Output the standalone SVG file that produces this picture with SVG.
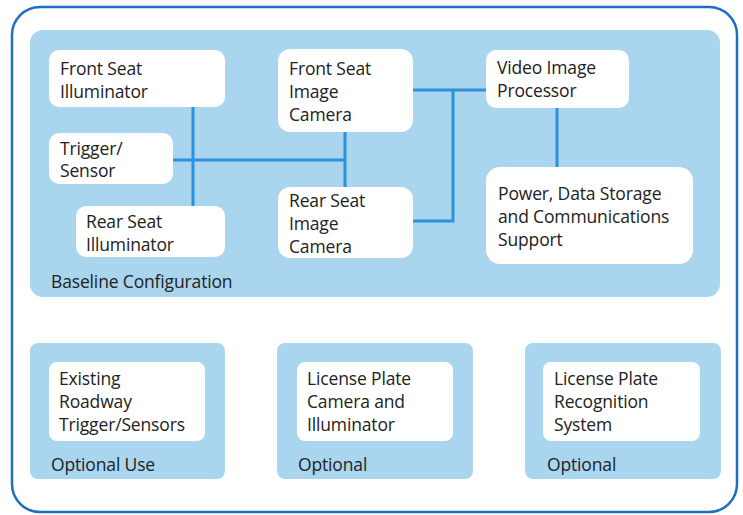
<svg xmlns="http://www.w3.org/2000/svg" width="743" height="515" viewBox="0 0 743 515">
<style>
.frame{fill:#fff;stroke:#1d6fc2;stroke-width:2.5}
.panel{fill:#a9d5ee}
.box{fill:#fff}
.t{font-family:"Open Sans","Noto Sans",sans-serif;font-size:17.5px;fill:#222;letter-spacing:-0.15px}
.conn{fill:none;stroke:#2a93db;stroke-width:3}
</style>
<rect class="frame" x="12" y="7" width="725" height="505" rx="28"/>
<g id="baseline">
<rect class="panel" x="30" y="30" width="690" height="267" rx="13"/>
<text class="t" x="51" y="288">Baseline Configuration</text>
</g>
<g id="connectors">
<path class="conn" d="M193 107V206M173 160H345M345 132V187M413 90H486M453 90V221H413M557 108V167"/>
</g>
<g id="front-seat-illuminator">
<rect class="box" x="49" y="50" width="176" height="57" rx="10"/>
<text class="t" x="60" y="75">Front Seat</text>
<text class="t" x="60" y="98">Illuminator</text>
</g>
<g id="trigger-sensor">
<rect class="box" x="49" y="133" width="124" height="51" rx="10"/>
<text class="t" x="60" y="155">Trigger/</text>
<text class="t" x="60" y="177">Sensor</text>
</g>
<g id="rear-seat-illuminator">
<rect class="box" x="76" y="206" width="149" height="51" rx="10"/>
<text class="t" x="86" y="228">Rear Seat</text>
<text class="t" x="86" y="251">Illuminator</text>
</g>
<g id="front-seat-camera">
<rect class="box" x="278" y="49" width="135" height="83" rx="12"/>
<text class="t" x="289" y="75">Front Seat</text>
<text class="t" x="289" y="98">Image</text>
<text class="t" x="289" y="121">Camera</text>
</g>
<g id="rear-seat-camera">
<rect class="box" x="278" y="187" width="135" height="71" rx="12"/>
<text class="t" x="289" y="207">Rear Seat</text>
<text class="t" x="289" y="230">Image</text>
<text class="t" x="289" y="253">Camera</text>
</g>
<g id="video-image-processor">
<rect class="box" x="486" y="50" width="143" height="58" rx="10"/>
<text class="t" x="497" y="74">Video Image</text>
<text class="t" x="497" y="97">Processor</text>
</g>
<g id="power-support">
<rect class="box" x="486" y="167" width="207" height="97" rx="14"/>
<text class="t" x="498" y="200">Power, Data Storage</text>
<text class="t" x="498" y="223">and Communications</text>
<text class="t" x="498" y="246">Support</text>
</g>
<g id="optional-use">
<rect class="panel" x="30" y="343" width="195" height="136" rx="8"/>
<rect class="box" x="49" y="362" width="156" height="79" rx="8"/>
<text class="t" x="59" y="385">Existing</text>
<text class="t" x="59" y="408">Roadway</text>
<text class="t" x="59" y="431">Trigger/Sensors</text>
<text class="t" x="51" y="471">Optional Use</text>
</g>
<g id="optional-lp-camera">
<rect class="panel" x="277" y="343" width="196" height="136" rx="8"/>
<rect class="box" x="297" y="362" width="156" height="79" rx="8"/>
<text class="t" x="307" y="385">License Plate</text>
<text class="t" x="307" y="408">Camera and</text>
<text class="t" x="307" y="431">Illuminator</text>
<text class="t" x="298" y="471">Optional</text>
</g>
<g id="optional-lp-recognition">
<rect class="panel" x="525" y="343" width="196" height="136" rx="8"/>
<rect class="box" x="543" y="362" width="157" height="79" rx="8"/>
<text class="t" x="554" y="385">License Plate</text>
<text class="t" x="554" y="408">Recognition</text>
<text class="t" x="554" y="431">System</text>
<text class="t" x="547" y="471">Optional</text>
</g>
</svg>
